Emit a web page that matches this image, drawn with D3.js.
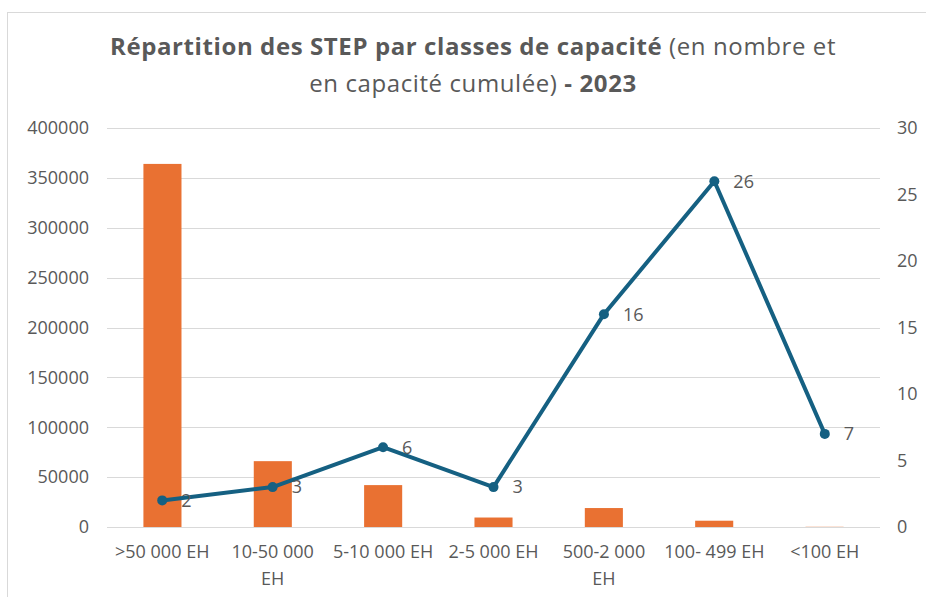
<html>
<head>
    <meta charset="utf-8">
    <title>Répartition des STEP par classes de capacité</title>
    <script src="https://d3js.org/d3.v7.min.js"></script>
    <style>
        body { margin: 0; background: white; }
        text { font-family: "Open Sans", "Liberation Sans", sans-serif; }
    </style>
</head>
<body>
    <div id="chart"></div>
    <script>
        // categories (x axis) and their wrapped tick labels
        var categories = [">50 000 EH", "10-50 000 EH", "5-10 000 EH", "2-5 000 EH", "500-2 000 EH", "100- 499 EH", "<100 EH"];
        var tickLines = [[">50 000 EH"], ["10-50 000", "EH"], ["5-10 000 EH"], ["2-5 000 EH"], ["500-2 000", "EH"], ["100- 499 EH"], ["<100 EH"]];
        // capacite cumulee (EH), left axis
        var capacite = [364000, 66000, 42000, 9500, 19000, 6300, 200];
        // nombre de STEP, right axis
        var nombre = [2, 3, 6, 3, 16, 26, 7];
        var leftTicks = [0, 50000, 100000, 150000, 200000, 250000, 300000, 350000, 400000];
        var rightTicks = [0, 5, 10, 15, 20, 25, 30];

        var width = 926, height = 597;
        var plot = {left: 107, right: 880, top: 128, bottom: 527};
        var grey = "#595959";
        var tickSize = 18;

        var svg = d3.select("#chart").append("svg")
                    .attr("width", width)
                    .attr("height", height);

        // chart frame
        svg.append("rect")
           .attr("x", 7.5).attr("y", 12.5)
           .attr("width", 940).attr("height", 600)
           .attr("fill", "white")
           .attr("stroke", "#d9d9d9");

        var x = d3.scaleBand().domain(categories).range([plot.left, plot.right]).paddingInner(0.655).paddingOuter(0.33);
        var xc = d3.scaleBand().domain(categories).range([plot.left, plot.right]);
        var yL = d3.scaleLinear().domain([0, 400000]).range([plot.bottom, plot.top]);
        var yR = d3.scaleLinear().domain([0, 30]).range([plot.bottom, plot.top]);

        // title
        var title = svg.append("text")
                       .attr("text-anchor", "middle")
                       .attr("fill", grey)
                       .attr("font-size", 24)
                       .attr("letter-spacing", 0.6);
        var t1 = title.append("tspan").attr("x", 473).attr("y", 55);
        t1.append("tspan").attr("font-weight", "bold").text("Répartition des STEP par classes de capacité");
        t1.append("tspan").text(" (en nombre et");
        var t2 = title.append("tspan").attr("x", 473).attr("y", 92);
        t2.append("tspan").text("en capacité cumulée)");
        t2.append("tspan").attr("font-weight", "bold").text(" - 2023");

        // gridlines
        svg.append("g").selectAll("line")
           .data(leftTicks)
           .join("line")
           .attr("x1", plot.left).attr("x2", plot.right)
           .attr("y1", function(d){ return Math.round(yL(d)) + 0.5; })
           .attr("y2", function(d){ return Math.round(yL(d)) + 0.5; })
           .attr("stroke", "#d9d9d9")
           .attr("stroke-width", 1);

        // left axis
        var axL = svg.append("g")
                     .attr("transform", "translate(" + (plot.left - 18) + ",0)")
                     .call(d3.axisLeft(yL).tickValues(leftTicks).tickSize(0).tickPadding(0).tickFormat(d3.format("d")));
        axL.select(".domain").remove();
        axL.selectAll("text").attr("fill", grey).attr("font-size", tickSize).attr("font-family", "Open Sans");

        // right axis
        var axR = svg.append("g")
                     .attr("transform", "translate(" + (plot.right + 17) + ",0)")
                     .call(d3.axisRight(yR).tickValues(rightTicks).tickSize(0).tickPadding(0));
        axR.select(".domain").remove();
        axR.selectAll("text").attr("fill", grey).attr("font-size", tickSize).attr("font-family", "Open Sans");

        // x axis labels
        var axX = svg.append("g")
                     .attr("transform", "translate(0," + plot.bottom + ")")
                     .call(d3.axisBottom(xc).tickSize(0).tickPadding(0).tickFormat(function(){ return ""; }));
        axX.select(".domain").remove();
        axX.selectAll(".tick text").each(function(d, i){
            var t = d3.select(this).attr("fill", grey).attr("font-size", tickSize).attr("font-family", "Open Sans").attr("y", 0).attr("dy", null);
            tickLines[i].forEach(function(line, j){
                t.append("tspan").attr("x", 0).attr("y", 31 + j * 27).text(line);
            });
        });

        // bars
        svg.append("g").selectAll("rect")
           .data(capacite)
           .join("rect")
           .attr("x", function(d, i){ return x(categories[i]); })
           .attr("width", x.bandwidth())
           .attr("y", function(d){ return yL(d); })
           .attr("height", function(d){ return plot.bottom - yL(d); })
           .attr("fill", "#E97132");

        // line
        var lineGen = d3.line()
                        .x(function(d, i){ return xc(categories[i]) + xc.bandwidth() / 2; })
                        .y(function(d){ return yR(d); });
        svg.append("path")
           .datum(nombre)
           .attr("d", lineGen)
           .attr("fill", "none")
           .attr("stroke", "#156082")
           .attr("stroke-width", 4)
           .attr("stroke-linejoin", "round");

        svg.append("g").selectAll("circle")
           .data(nombre)
           .join("circle")
           .attr("cx", function(d, i){ return xc(categories[i]) + xc.bandwidth() / 2; })
           .attr("cy", function(d){ return yR(d); })
           .attr("r", 5)
           .attr("fill", "#156082");

        svg.append("g").selectAll("text")
           .data(nombre)
           .join("text")
           .attr("x", function(d, i){ return xc(categories[i]) + xc.bandwidth() / 2 + 19; })
           .attr("y", function(d){ return yR(d); })
           .attr("dy", "0.35em")
           .attr("fill", grey)
           .attr("font-size", tickSize)
           .text(function(d){ return d; });
    </script>
</body>
</html>
